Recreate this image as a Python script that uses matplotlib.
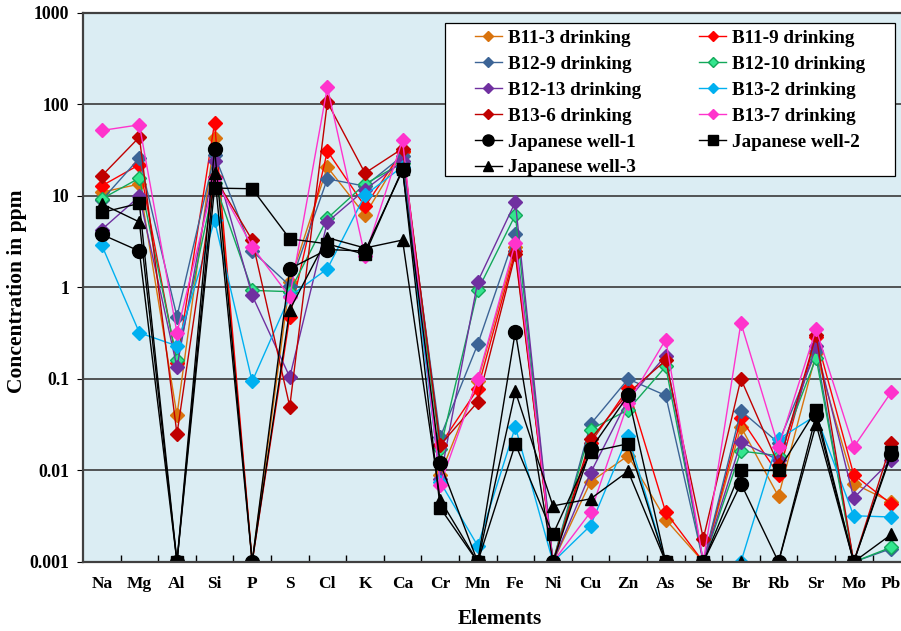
import matplotlib
matplotlib.use("Agg")
import matplotlib.pyplot as plt
from matplotlib.patches import Rectangle
from matplotlib.ticker import FixedLocator, NullFormatter

plt.rcParams["font.family"] = ["Liberation Serif", "DejaVu Serif"]
plt.rcParams["font.weight"] = "bold"

# element order along the x axis
elements = ["Na", "Mg", "Al", "Si", "P", "S", "Cl", "K", "Ca", "Cr", "Mn",
            "Fe", "Ni", "Cu", "Zn", "As", "Se", "Br", "Rb", "Sr", "Mo", "Pb"]

# concentrations in ppm
b11_3 = [11, 13.5, 0.04, 43, 0.001, 1.15, 20.7, 6.2, 30, 0.009, 0.095,
         2.8, 0.001, 0.0075, 0.0145, 0.0029, 0.001, 0.03, 0.0052, 0.19, 0.0072, 0.0045]
b11_9 = [12.9, 22, 0.15, 63, 0.001, 0.48, 31, 7.7, 31, 0.019, 0.078,
         2.5, 0.001, 0.02, 0.079, 0.0035, 0.001, 0.037, 0.009, 0.29, 0.009, 0.0043]
b12_9 = [9, 26, 0.48, 28, 2.5, 1.05, 15.4, 12.8, 27.5, 0.023, 0.24,
         3.8, 0.001, 0.032, 0.1, 0.066, 0.001, 0.045, 0.02, 0.2, 0.001, 0.0014]
b12_10 = [9.3, 15.7, 0.16, 14, 0.93, 0.9, 5.7, 13.5, 23, 0.017, 0.93,
          6.2, 0.001, 0.028, 0.046, 0.137, 0.001, 0.0163, 0.0145, 0.17, 0.001, 0.00145]
b12_13 = [4.3, 9.9, 0.135, 24, 0.82, 0.105, 5.2, 11.7, 24, 0.008, 1.16,
          8.6, 0.001, 0.0094, 0.06, 0.18, 0.001, 0.0205, 0.013, 0.23, 0.005, 0.013]
b13_2 = [2.9, 0.32, 0.23, 5.4, 0.094, 0.8, 1.6, 10.2, 21, 0.0075, 0.0015,
         0.03, 0.001, 0.0025, 0.024, 0.001, 0.001, 0.001, 0.022, 0.04, 0.0032, 0.0031]
b13_6 = [16.6, 44, 0.025, 16, 3.3, 0.05, 106, 17.8, 33, 0.019, 0.056,
         2.3, 0.001, 0.022, 0.07, 0.16, 0.0018, 0.1, 0.0115, 0.3, 0.001, 0.02]
b13_7 = [52, 60, 0.32, 15.8, 2.8, 0.79, 155, 2.2, 41, 0.007, 0.1,
         3.1, 0.001, 0.0035, 0.055, 0.27, 0.001, 0.41, 0.018, 0.35, 0.018, 0.072]
jw1 = [3.8, 2.5, 0.001, 33, 0.001, 1.6, 2.6, 2.5, 19, 0.012, 0.001,
       0.33, 0.001, 0.017, 0.066, 0.001, 0.001, 0.0072, 0.001, 0.04, 0.001, 0.015]
jw2 = [6.6, 8.3, 0.001, 12.2, 12, 3.4, 3.0, 2.3, 19.8, 0.0039, 0.001,
       0.0195, 0.002, 0.016, 0.0196, 0.001, 0.001, 0.01, 0.01, 0.046, 0.001, 0.016]
jw3 = [8.2, 5.2, 0.001, 17.7, 0.001, 0.57, 3.5, 2.7, 3.3, 0.0048, 0.001,
       0.073, 0.0041, 0.0049, 0.0098, 0.001, 0.001, 0.001, 0.001, 0.032, 0.001, 0.002]

# (label, values, line colour, marker, marker fill, marker size)
series = [
    ("B11-3 drinking", b11_3, "#D9730D", "D", "#D9730D", 7),
    ("B11-9 drinking", b11_9, "#FF0000", "D", "#FF0000", 7),
    ("B12-9 drinking", b12_9, "#3C6496", "D", "#3C6496", 7),
    ("B12-10 drinking", b12_10, "#13A85A", "D", "#33E68E", 7),
    ("B12-13 drinking", b12_13, "#7030A0", "D", "#7030A0", 7),
    ("B13-2 drinking", b13_2, "#00B0F0", "D", "#00B0F0", 7),
    ("B13-6 drinking", b13_6, "#C00000", "D", "#C00000", 7),
    ("B13-7 drinking", b13_7, "#FF33CC", "D", "#FF33CC", 7),
    ("Japanese well-1", jw1, "black", "o", "black", 10),
    ("Japanese well-2", jw2, "black", "s", "black", 9),
    ("Japanese well-3", jw3, "black", "^", "black", 9),
]

fig = plt.figure(figsize=(9.01, 6.31), dpi=100)
ax = fig.add_axes([0.0921, 0.1094, 0.918, 0.870])
ax.set_facecolor("#DBEDF3")

x = list(range(len(elements)))
handles = {}
for label, vals, col, mk, mfc, ms in series:
    ln, = ax.plot(x, vals, color=col, lw=1.0, marker=mk, markersize=ms,
                  markerfacecolor=mfc, markeredgecolor=col, label=label)
    handles[label] = ln

ax.set_yscale("log")
ax.set_ylim(0.001, 1000)
ax.set_xlim(-0.5, len(elements) - 0.5)

yt = [0.001, 0.01, 0.1, 1, 10, 100, 1000]
ax.yaxis.set_major_locator(FixedLocator(yt))
ax.yaxis.set_minor_locator(FixedLocator([]))
ax.set_yticklabels(["0.001", "0.01", "0.1", "1", "10", "100", "1000"],
                   fontsize=12.8, fontweight="bold")
ax.grid(axis="y", which="major", color="#3A3A3A", lw=1.2)
ax.set_axisbelow(True)

ax.set_xticks(x)
ax.set_xticklabels(elements, fontsize=12.5, fontweight="bold")
ax.xaxis.set_minor_locator(FixedLocator([i + 0.5 for i in x]))
ax.xaxis.set_minor_formatter(NullFormatter())
ax.tick_params(axis="x", which="major", length=0, pad=10)
ax.tick_params(axis="x", which="minor", length=5, direction="in", width=1)
ax.tick_params(axis="y", which="major", length=4, direction="out", pad=6)

for s in ax.spines.values():
    s.set_color("#404040")
    s.set_linewidth(1.6)

ax.set_ylabel("Concentration in ppm", fontsize=15.5, fontweight="bold")
ax.yaxis.set_label_coords(-0.0677, 0.494)
ax.set_xlabel("Elements", fontsize=15.4, fontweight="bold")
ax.xaxis.set_label_coords(0.504, -0.086)

# legend frame drawn by hand to get the wide padding of the original
ax.add_patch(Rectangle((0.4377, 0.7036), 0.544, 0.2787, transform=ax.transAxes,
                       facecolor="white", edgecolor="black", lw=0.9, zorder=4.5))

# legend is filled row by row in the original, so reorder for column filling
order = ["B11-3 drinking", "B12-9 drinking", "B12-13 drinking", "B13-6 drinking",
         "Japanese well-1", "Japanese well-3",
         "B11-9 drinking", "B12-10 drinking", "B13-2 drinking", "B13-7 drinking",
         "Japanese well-2"]
leg_handles = []
for name in order:
    h = handles[name]
    proxy = plt.Line2D([], [], color=h.get_color(), lw=1.0, marker=h.get_marker(),
                       markersize=h.get_markersize() * 0.8,
                       markerfacecolor=h.get_markerfacecolor(),
                       markeredgecolor=h.get_markeredgecolor())
    leg_handles.append(proxy)
leg = ax.legend(leg_handles, order, ncol=2, loc="upper left",
                bbox_to_anchor=(0.474, 0.9696),
                prop={"family": "Liberation Serif", "weight": "bold", "size": 13.8},
                frameon=False, borderpad=0, labelspacing=0.44, handlelength=1.4,
                handletextpad=0.3, columnspacing=3.05, borderaxespad=0)
leg.set_zorder(5)

fig.savefig("out.png", dpi=100)
